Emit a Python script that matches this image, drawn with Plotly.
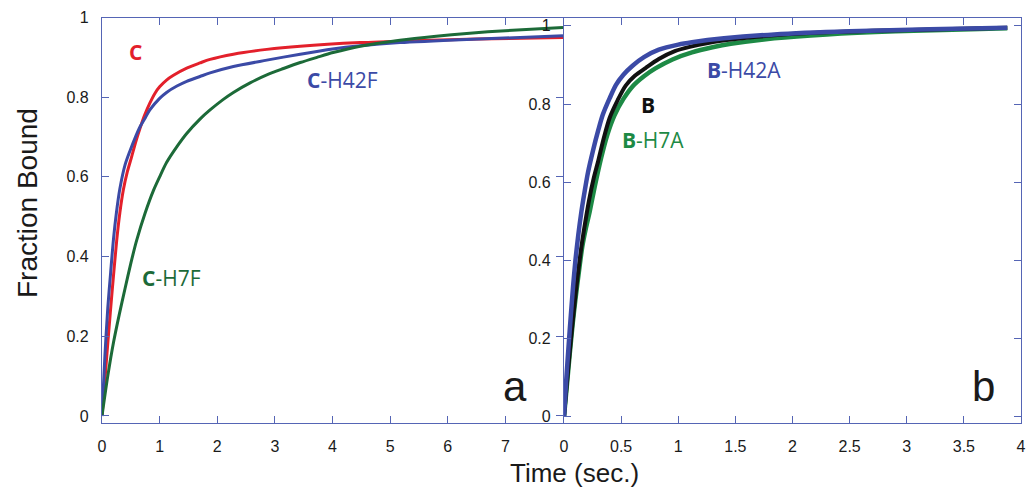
import plotly.graph_objects as go

# ---------------- data ----------------
# Panel a
c_t = [0, 0.05, 0.11, 0.18, 0.255, 0.31, 0.37, 0.44, 0.515, 0.59, 0.66, 0.74, 0.83, 0.92, 1.0, 1.12, 1.24, 1.47, 1.7, 1.875, 2.28, 2.86, 3.44, 4.48, 5.5, 6.5, 8.0]
c_y = [0, 0.09, 0.20, 0.32, 0.44, 0.51, 0.567, 0.613, 0.651, 0.69, 0.722, 0.755, 0.785, 0.81, 0.826, 0.843, 0.855, 0.873, 0.886, 0.895, 0.908, 0.92, 0.928, 0.937, 0.942, 0.946, 0.950]

ch42f_t = [0, 0.05, 0.10, 0.15, 0.20, 0.25, 0.31, 0.40, 0.49, 0.58, 0.66, 0.75, 0.83, 1.0, 1.12, 1.3, 1.47, 1.7, 1.875, 2.28, 2.86, 3.44, 4.0, 4.48, 5.17, 6.33, 8.0]
ch42f_y = [0, 0.15, 0.27, 0.36, 0.445, 0.51, 0.57, 0.63, 0.667, 0.70, 0.726, 0.748, 0.768, 0.797, 0.812, 0.828, 0.840, 0.852, 0.861, 0.877, 0.893, 0.908, 0.921, 0.929, 0.937, 0.945, 0.954]

ch7f_t = [0, 0.1, 0.2, 0.3, 0.4, 0.5, 0.6, 0.75, 0.89, 1.0, 1.12, 1.3, 1.47, 1.7, 1.875, 2.1, 2.28, 2.57, 2.86, 3.15, 3.44, 3.73, 4.01, 4.48, 5.17, 5.8, 6.33, 7.0, 8.0]
ch7f_y = [0, 0.10, 0.185, 0.255, 0.32, 0.383, 0.44, 0.51, 0.565, 0.60, 0.636, 0.676, 0.709, 0.745, 0.768, 0.794, 0.812, 0.836, 0.856, 0.872, 0.887, 0.900, 0.912, 0.928, 0.943, 0.953, 0.960, 0.967, 0.975]

# Panel b
b_t = [0, 0.025, 0.05, 0.075, 0.10, 0.13, 0.16, 0.19, 0.22, 0.26, 0.30, 0.35, 0.40, 0.47, 0.54, 0.62, 0.714, 0.83, 0.97, 1.1, 1.26, 1.5, 1.69, 2.2, 2.8, 3.3, 3.88]
b_y = [0, 0.085, 0.165, 0.24, 0.31, 0.385, 0.45, 0.505, 0.555, 0.61, 0.655, 0.715, 0.765, 0.81, 0.847, 0.872, 0.892, 0.915, 0.935, 0.946, 0.956, 0.966, 0.972, 0.982, 0.988, 0.991, 0.995]

bh42a_t = [0, 0.02, 0.04, 0.06, 0.08, 0.10, 0.125, 0.15, 0.18, 0.21, 0.253, 0.30, 0.34, 0.40, 0.455, 0.52, 0.6, 0.7, 0.83, 1.0, 1.12, 1.40, 1.84, 2.5, 3.2, 3.88]
bh42a_y = [0, 0.095, 0.18, 0.26, 0.335, 0.40, 0.465, 0.52, 0.575, 0.625, 0.68, 0.733, 0.773, 0.815, 0.849, 0.875, 0.898, 0.92, 0.939, 0.952, 0.958, 0.968, 0.978, 0.986, 0.991, 0.995]

bh7a_t = [0, 0.025, 0.05, 0.075, 0.10, 0.13, 0.16, 0.19, 0.225, 0.27, 0.325, 0.38, 0.44, 0.52, 0.60, 0.70, 0.80, 0.95, 1.12, 1.3, 1.46, 1.84, 2.3, 2.9, 3.4, 3.88]
bh7a_y = [0, 0.08, 0.16, 0.235, 0.30, 0.37, 0.435, 0.48, 0.525, 0.59, 0.662, 0.722, 0.77, 0.813, 0.845, 0.871, 0.891, 0.914, 0.932, 0.945, 0.954, 0.968, 0.978, 0.986, 0.990, 0.994]

a_xticks = [0, 1, 2, 3, 4, 5, 6, 7]
b_xticks = [0, 0.5, 1, 1.5, 2, 2.5, 3, 3.5, 4]
b_xlabels = ["0", "0.5", "1", "1.5", "2", "2.5", "3", "3.5", "4"]
y_ticks = [0, 0.2, 0.4, 0.6, 0.8, 1.0]
y_labels = ["0", "0.2", "0.4", "0.6", "0.8", "1"]

# ---------------- styles ----------------
RED = "#e3202b"
BLUE = "#3b4aa6"
DKGREEN = "#1c6a38"
GREEN = "#1d8a45"
BLACK = "#111111"
FRAME = "#5565b5"
TXT = "#1a1a1a"
OFF = 8  # the page body adds an 8px margin; figure sized so the page fits the 1034x495 view
W, H = 1034 - 2 * OFF, 495 - 2 * OFF
LBL_FONT = "Open Sans, Noto Sans, sans-serif"
AX_FONT = "Liberation Sans, Arial, sans-serif"


def px(x):
    return (x - OFF) / W


def py(y):
    return (H - (y - OFF)) / H


fig = go.Figure()


def add(x, y, color, width, xa, ya, name):
    fig.add_trace(go.Scatter(x=x, y=y, mode="lines", name=name,
                             line=dict(color=color, width=width, shape="spline", smoothing=0.8),
                             xaxis=xa, yaxis=ya, showlegend=False, hoverinfo="skip"))


add(c_t, c_y, RED, 3, "x", "y", "C")
add(ch42f_t, ch42f_y, BLUE, 3, "x", "y", "C-H42F")
add(ch7f_t, ch7f_y, DKGREEN, 3, "x", "y", "C-H7F")

add(bh7a_t, bh7a_y, GREEN, 4.5, "x2", "y2", "B-H7A")
add(b_t, b_y, BLACK, 4, "x2", "y2", "B")
add(bh42a_t, bh42a_y, BLUE, 4.5, "x2", "y2", "B-H42A")

common = dict(showgrid=False, zeroline=False, showline=True, linecolor=FRAME, linewidth=1.3,
              mirror="ticks", ticks="inside", ticklen=7, tickwidth=1, tickcolor=FRAME,
              tickfont=dict(family=AX_FONT, size=16, color=TXT), ticklabelstandoff=9,
              ticklabeloverflow="allow", automargin=False)

fig.update_layout(
    width=W, height=H,
    margin=dict(l=0, r=0, t=0, b=0, pad=0),
    paper_bgcolor="white", plot_bgcolor="white",
    xaxis=dict(domain=[px(102), px(563)], range=[0, 8], tickvals=a_xticks, anchor="y", **common),
    yaxis=dict(domain=[py(423), py(17.5)], range=[-0.0176, 1.0], tickvals=y_ticks,
               ticktext=y_labels, anchor="x", **common),
    xaxis2=dict(domain=[px(564), px(1021)], range=[0, 4.0001], tickvals=b_xticks, ticktext=b_xlabels,
                anchor="y2", **common),
    yaxis2=dict(domain=[py(423), py(18)], range=[-0.016, 1.02], tickvals=y_ticks,
                ticktext=y_labels, anchor="x2", **common),
)


def lab(text, x, y, color, size, xref, yref, xanchor="left", family=LBL_FONT):
    fig.add_annotation(text=text, x=x, y=y, xref=xref, yref=yref, showarrow=False,
                       xanchor=xanchor, yanchor="middle",
                       font=dict(family=family, size=size, color=color))


lab("<b>C</b>", 0.573, 0.914, RED, 21, "x", "y", "center")
lab("<b>C</b>-H42F", 3.52, 0.843, BLUE, 21, "x", "y")
lab("<b>C</b>-H7F", 0.66, 0.346, DKGREEN, 21, "x", "y")
lab("a", 7.17, 0.075, TXT, 42, "x", "y", "center", AX_FONT)

lab("<b>B</b>-H42A", 1.23, 0.888, BLUE, 21, "x2", "y2")
lab("<b>B</b>", 0.735, 0.798, BLACK, 21, "x2", "y2", "center")
lab("<b>B</b>-H7A", 0.49, 0.709, GREEN, 21, "x2", "y2")
lab("b", 3.67, 0.078, TXT, 42, "x2", "y2", "center", AX_FONT)

fig.add_annotation(text="Fraction Bound", x=px(28), y=py(203), xref="paper", yref="paper",
                   showarrow=False, textangle=-90, xanchor="center", yanchor="middle",
                   font=dict(family=AX_FONT, size=28, color=TXT))
fig.add_annotation(text="Time (sec.)", x=px(574), y=py(473), xref="paper", yref="paper",
                   showarrow=False, xanchor="center", yanchor="middle",
                   font=dict(family=AX_FONT, size=26, color=TXT))

fig.write_html("out.html")
